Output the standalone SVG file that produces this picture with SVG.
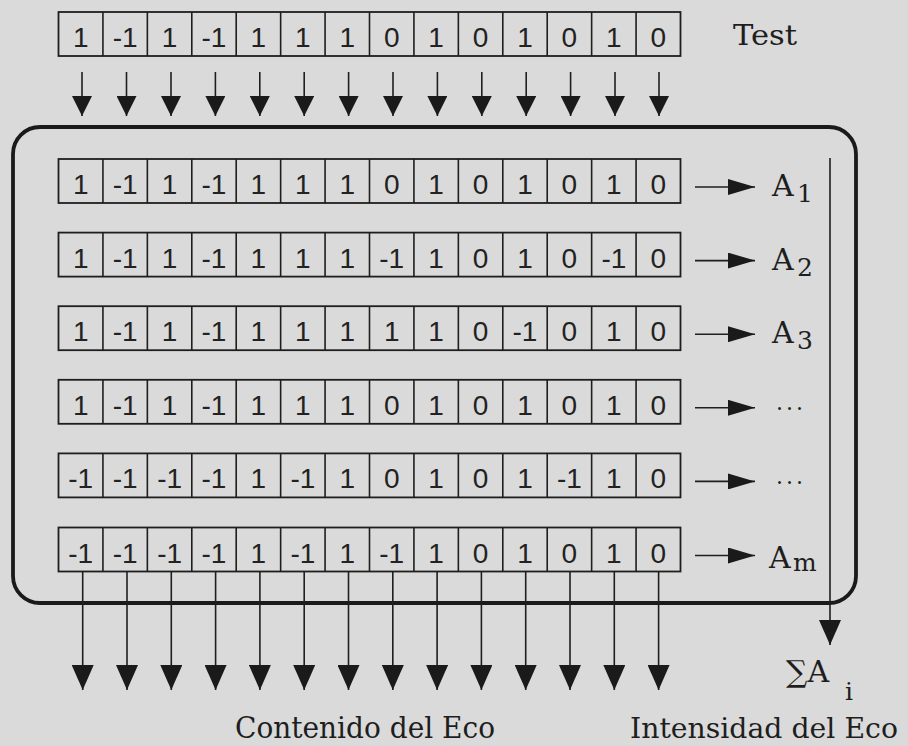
<svg xmlns="http://www.w3.org/2000/svg" width="908" height="746" viewBox="0 0 908 746">
<defs>
<style>
.bg{fill:#dadada}
.cell{fill:none;stroke:#1e1e1e;stroke-width:1.8}
.sep{stroke:#1e1e1e;stroke-width:1.6}
.d{font-family:"Liberation Sans Narrow","Liberation Sans",Arial,sans-serif;font-size:28px;fill:#222;text-anchor:middle}
.lbl{font-family:"DejaVu Serif","Liberation Serif",serif;fill:#1e1e1e}
.conn{stroke:#1e1e1e;stroke-width:1.6;fill:none}
.box{fill:none;stroke:#1a1a1a;stroke-width:3.8}
</style>
<marker id="ahTop" markerUnits="userSpaceOnUse" viewBox="0 0 20 20" refX="20" refY="10" markerWidth="20" markerHeight="20" orient="auto"><path d="M0,0 L20,10 L0,20 Z" fill="#1a1a1a"/></marker>
<marker id="ahBot" markerUnits="userSpaceOnUse" viewBox="0 0 25 22" refX="25" refY="11" markerWidth="25" markerHeight="22" orient="auto"><path d="M0,0 L25,11 L0,22 Z" fill="#1a1a1a"/></marker>
<marker id="ahR" markerUnits="userSpaceOnUse" viewBox="0 0 27 16" refX="27" refY="8" markerWidth="27" markerHeight="16" orient="auto"><path d="M0,0 L27,8 L0,16 Z" fill="#1a1a1a"/></marker>
<g id="rowgrid">
<rect class="cell" x="0" y="0" width="622" height="44"/>
<path class="sep" d="M44.43,0V44M88.86,0V44M133.29,0V44M177.71,0V44M222.14,0V44M266.57,0V44M311,0V44M355.43,0V44M399.86,0V44M444.29,0V44M488.71,0V44M533.14,0V44M577.57,0V44"/>
</g>
</defs>
<rect class="bg" x="0" y="0" width="908" height="746"/>

<g id="box">
<path class="box" d="M40,127 H829 A27,27 0 0 1 856,154 V576 A27,27 0 0 1 829,603 H40 A27,27 0 0 1 13,576 V154 A27,27 0 0 1 40,127 Z"/>
</g>

<g id="test-row">
<use href="#rowgrid" x="58.5" y="12"/>
<text class="d" y="47"><tspan x="80.7">1</tspan><tspan x="125.1">-1</tspan><tspan x="169.6">1</tspan><tspan x="214">-1</tspan><tspan x="258.4">1</tspan><tspan x="302.9">1</tspan><tspan x="347.3">1</tspan><tspan x="391.7">0</tspan><tspan x="436.1">1</tspan><tspan x="480.6">0</tspan><tspan x="525">1</tspan><tspan x="569.4">0</tspan><tspan x="613.9">1</tspan><tspan x="658.3">0</tspan></text>
<text class="lbl" x="733" y="45" font-size="27" textLength="64" lengthAdjust="spacingAndGlyphs">Test</text>
</g>

<g id="row1">
<use href="#rowgrid" x="58.5" y="159"/>
<text class="d" y="194"><tspan x="80.7">1</tspan><tspan x="125.1">-1</tspan><tspan x="169.6">1</tspan><tspan x="214">-1</tspan><tspan x="258.4">1</tspan><tspan x="302.9">1</tspan><tspan x="347.3">1</tspan><tspan x="391.7">0</tspan><tspan x="436.1">1</tspan><tspan x="480.6">0</tspan><tspan x="525">1</tspan><tspan x="569.4">0</tspan><tspan x="613.9">1</tspan><tspan x="658.3">0</tspan></text>
<text class="lbl" x="772" y="196" font-size="30">A</text><text class="lbl" x="797" y="202" font-size="25">1</text>
</g>

<g id="row2">
<use href="#rowgrid" x="58.5" y="232.6"/>
<text class="d" y="267.6"><tspan x="80.7">1</tspan><tspan x="125.1">-1</tspan><tspan x="169.6">1</tspan><tspan x="214">-1</tspan><tspan x="258.4">1</tspan><tspan x="302.9">1</tspan><tspan x="347.3">1</tspan><tspan x="391.7">-1</tspan><tspan x="436.1">1</tspan><tspan x="480.6">0</tspan><tspan x="525">1</tspan><tspan x="569.4">0</tspan><tspan x="613.9">-1</tspan><tspan x="658.3">0</tspan></text>
<text class="lbl" x="772" y="269.6" font-size="30">A</text><text class="lbl" x="797" y="275.6" font-size="25">2</text>
</g>

<g id="row3">
<use href="#rowgrid" x="58.5" y="306.2"/>
<text class="d" y="341.2"><tspan x="80.7">1</tspan><tspan x="125.1">-1</tspan><tspan x="169.6">1</tspan><tspan x="214">-1</tspan><tspan x="258.4">1</tspan><tspan x="302.9">1</tspan><tspan x="347.3">1</tspan><tspan x="391.7">1</tspan><tspan x="436.1">1</tspan><tspan x="480.6">0</tspan><tspan x="525">-1</tspan><tspan x="569.4">0</tspan><tspan x="613.9">1</tspan><tspan x="658.3">0</tspan></text>
<text class="lbl" x="772" y="343.2" font-size="30">A</text><text class="lbl" x="797" y="349.2" font-size="25">3</text>
</g>

<g id="row4">
<use href="#rowgrid" x="58.5" y="379.8"/>
<text class="d" y="414.8"><tspan x="80.7">1</tspan><tspan x="125.1">-1</tspan><tspan x="169.6">1</tspan><tspan x="214">-1</tspan><tspan x="258.4">1</tspan><tspan x="302.9">1</tspan><tspan x="347.3">1</tspan><tspan x="391.7">0</tspan><tspan x="436.1">1</tspan><tspan x="480.6">0</tspan><tspan x="525">1</tspan><tspan x="569.4">0</tspan><tspan x="613.9">1</tspan><tspan x="658.3">0</tspan></text>
<text class="lbl" x="776" y="410" font-size="22" letter-spacing="3">...</text>
</g>

<g id="row5">
<use href="#rowgrid" x="58.5" y="453.4"/>
<text class="d" y="488.4"><tspan x="80.7">-1</tspan><tspan x="125.1">-1</tspan><tspan x="169.6">-1</tspan><tspan x="214">-1</tspan><tspan x="258.4">1</tspan><tspan x="302.9">-1</tspan><tspan x="347.3">1</tspan><tspan x="391.7">0</tspan><tspan x="436.1">1</tspan><tspan x="480.6">0</tspan><tspan x="525">1</tspan><tspan x="569.4">-1</tspan><tspan x="613.9">1</tspan><tspan x="658.3">0</tspan></text>
<text class="lbl" x="776" y="483.6" font-size="22" letter-spacing="3">...</text>
</g>

<g id="row6">
<use href="#rowgrid" x="58.5" y="527.5"/>
<text class="d" y="562.5"><tspan x="80.7">-1</tspan><tspan x="125.1">-1</tspan><tspan x="169.6">-1</tspan><tspan x="214">-1</tspan><tspan x="258.4">1</tspan><tspan x="302.9">-1</tspan><tspan x="347.3">1</tspan><tspan x="391.7">-1</tspan><tspan x="436.1">1</tspan><tspan x="480.6">0</tspan><tspan x="525">1</tspan><tspan x="569.4">0</tspan><tspan x="613.9">1</tspan><tspan x="658.3">0</tspan></text>
<text class="lbl" x="769" y="568" font-size="30">A</text><text class="lbl" x="793" y="571" font-size="25">m</text>
</g>

<g id="connectors">
<g id="top-arrows">
<path class="conn" d="M82,72V116" marker-end="url(#ahTop)"/>
<path class="conn" d="M126.5,72V116" marker-end="url(#ahTop)"/>
<path class="conn" d="M171,72V116" marker-end="url(#ahTop)"/>
<path class="conn" d="M215.4,72V116" marker-end="url(#ahTop)"/>
<path class="conn" d="M259.8,72V116" marker-end="url(#ahTop)"/>
<path class="conn" d="M304.2,72V116" marker-end="url(#ahTop)"/>
<path class="conn" d="M348.6,72V116" marker-end="url(#ahTop)"/>
<path class="conn" d="M393,72V116" marker-end="url(#ahTop)"/>
<path class="conn" d="M437.4,72V116" marker-end="url(#ahTop)"/>
<path class="conn" d="M481.8,72V116" marker-end="url(#ahTop)"/>
<path class="conn" d="M526.2,72V116" marker-end="url(#ahTop)"/>
<path class="conn" d="M570.6,72V116" marker-end="url(#ahTop)"/>
<path class="conn" d="M615,72V116" marker-end="url(#ahTop)"/>
<path class="conn" d="M659,72V116" marker-end="url(#ahTop)"/>
</g>
<g id="bottom-arrows">
<path class="conn" d="M82.7,571.5V690" marker-end="url(#ahBot)"/>
<path class="conn" d="M127,571.5V690" marker-end="url(#ahBot)"/>
<path class="conn" d="M171.3,571.5V690" marker-end="url(#ahBot)"/>
<path class="conn" d="M215.6,571.5V690" marker-end="url(#ahBot)"/>
<path class="conn" d="M259.9,571.5V690" marker-end="url(#ahBot)"/>
<path class="conn" d="M304.2,571.5V690" marker-end="url(#ahBot)"/>
<path class="conn" d="M348.5,571.5V690" marker-end="url(#ahBot)"/>
<path class="conn" d="M392.8,571.5V690" marker-end="url(#ahBot)"/>
<path class="conn" d="M437.1,571.5V690" marker-end="url(#ahBot)"/>
<path class="conn" d="M481.4,571.5V690" marker-end="url(#ahBot)"/>
<path class="conn" d="M525.7,571.5V690" marker-end="url(#ahBot)"/>
<path class="conn" d="M570,571.5V690" marker-end="url(#ahBot)"/>
<path class="conn" d="M614.3,571.5V690" marker-end="url(#ahBot)"/>
<path class="conn" d="M658.6,571.5V690" marker-end="url(#ahBot)"/>
</g>
<g id="row-arrows">
<path class="conn" d="M695,187H755" marker-end="url(#ahR)"/>
<path class="conn" d="M695,260.6H755" marker-end="url(#ahR)"/>
<path class="conn" d="M695,334.2H755" marker-end="url(#ahR)"/>
<path class="conn" d="M695,407.8H755" marker-end="url(#ahR)"/>
<path class="conn" d="M695,481.4H755" marker-end="url(#ahR)"/>
<path class="conn" d="M695,555.5H755" marker-end="url(#ahR)"/>
</g>
<path id="sum-arrow" class="conn" d="M830,158V645" marker-end="url(#ahBot)"/>
</g>

<g id="sum-label">
<text class="lbl" x="786" y="682" font-size="30">∑A</text>
<text class="lbl" x="845" y="700" font-size="25">i</text>
</g>
<g id="captions">
<text class="lbl" x="235" y="738" font-size="29" textLength="260" lengthAdjust="spacingAndGlyphs">Contenido del Eco</text>
<text class="lbl" x="630" y="738" font-size="28" textLength="268" lengthAdjust="spacingAndGlyphs">Intensidad del Eco</text>
</g>
</svg>
